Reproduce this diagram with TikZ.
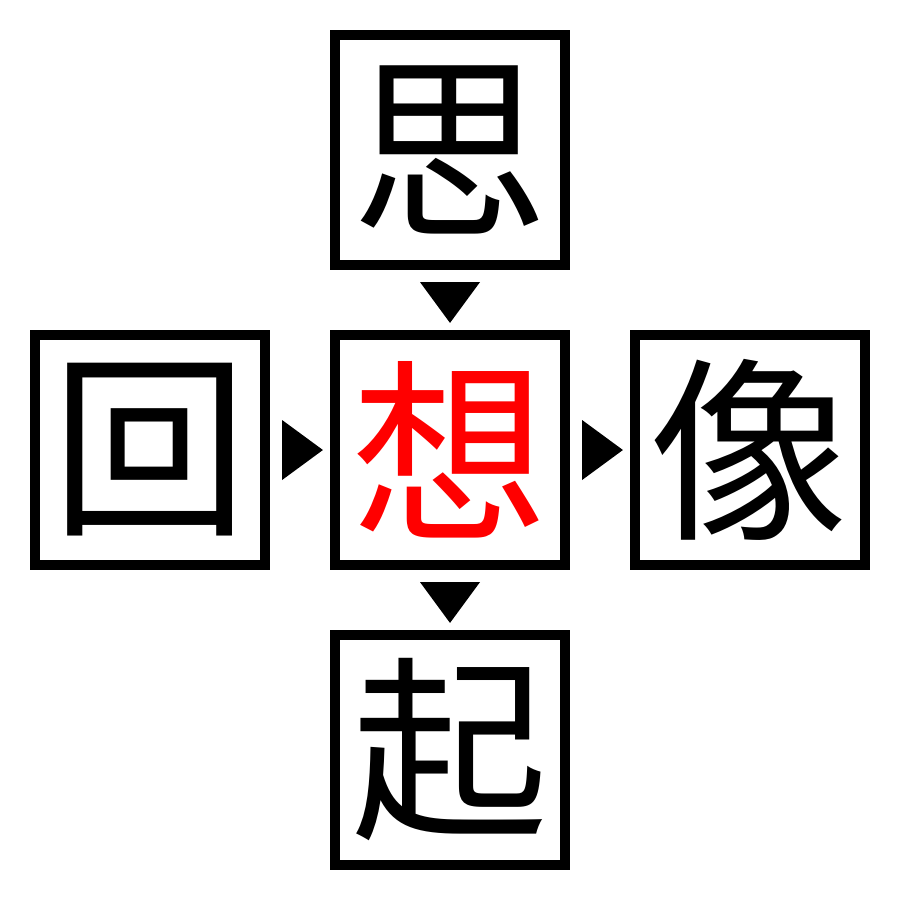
\documentclass[tikz,border=0pt]{standalone}
\usepackage{fontspec}
\usetikzlibrary{calc}
\newfontfamily\cjk{Noto Sans CJK JP}
\begin{document}
\begin{tikzpicture}[x=0.01cm,y=-0.01cm,
  cell/.style={draw=black,line width=0.1cm,minimum size=2.3cm,inner sep=0pt,
    font=\cjk\fontsize{56}{56}\selectfont},
  tri/.style={fill=black,draw=none}]
\useasboundingbox (0,0) rectangle (900,900);
\node[cell] (top) at (450,150) {思};
\node[cell] (mid) at (450,450) {\textcolor{red}{想}};
\node[cell] (left) at (150,450) {回};
\node[cell] (right) at (750,450) {像};
\node[cell] (bot) at (450,750) {起};
\fill[tri] ($(top.south)+(-30,12)$) -- ($(top.south)+(30,12)$) -- ($(mid.north)+(0,-7)$) -- cycle;
\fill[tri] ($(mid.south)+(-30,12)$) -- ($(mid.south)+(30,12)$) -- ($(bot.north)+(0,-7)$) -- cycle;
\fill[tri] ($(left.east)+(12,-30)$) -- ($(left.east)+(12,30)$) -- ($(mid.west)+(-7,0)$) -- cycle;
\fill[tri] ($(mid.east)+(12,-30)$) -- ($(mid.east)+(12,30)$) -- ($(right.west)+(-7,0)$) -- cycle;
\end{tikzpicture}
\end{document}
